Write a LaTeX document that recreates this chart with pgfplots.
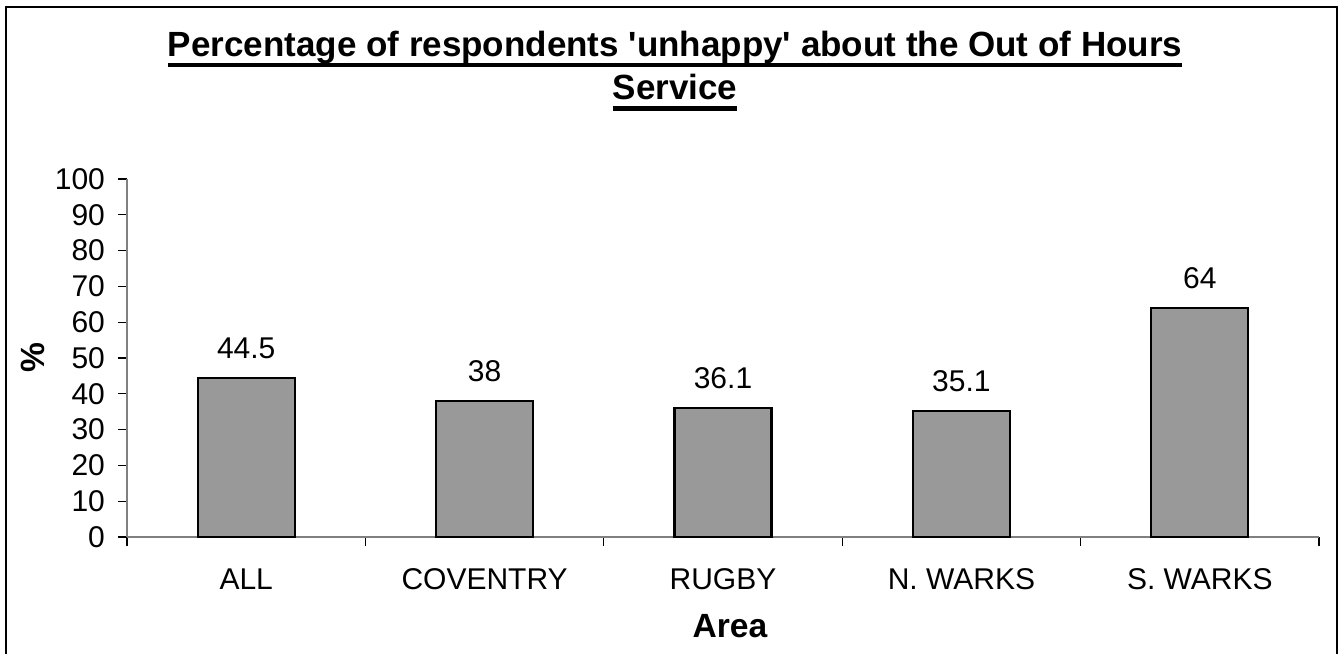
\documentclass[border=0pt]{standalone}
\usepackage{pgfplots}
\pgfplotsset{compat=1.18}
\usepackage{fontspec}
\setmainfont{Liberation Sans}
\newfontfamily\plainfont{Liberation Sans}
\newcommand\ulx[1]{\setbox0\hbox{#1}\rlap{\rule[-5.3pt]{\wd0}{2.3pt}}\box0}
\begin{document}
\begin{tikzpicture}
\useasboundingbox (-63.5pt,-58pt) rectangle (607.5pt,268.5pt);
\begin{axis}[
  scale only axis,
  width=596pt, height=179pt,
  xmin=-0.5, xmax=4.5, ymin=0, ymax=100,
  enlargelimits=false,
  axis lines*=left,
  axis line style={draw=black!50, line width=0.7pt},
  tick align=outside,
  major tick length=4.5pt,
  tick style={black, line width=0.6pt},
  ytick={0,10,...,100},
  xtick={-0.5,0.5,1.5,2.5,3.5,4.5},
  xticklabels={},
  extra x ticks={0,1,2,3,4},
  extra x tick labels={ALL,COVENTRY,RUGBY,N. WARKS,S. WARKS},
  extra x tick style={tick style={draw=none}},
  /pgf/number format/assume math mode=true,
  ticklabel style={font=\fontsize{15pt}{18pt}\selectfont},
  yticklabel style={xshift=-3pt},
  xticklabel style={anchor=base, yshift=-21.5pt},
  xlabel={Area},
  ylabel={\%},
  xlabel style={font=\fontsize{16.8pt}{20pt}\selectfont\bfseries, at={(axis description cs:0.5,0)}, anchor=base, yshift=-50pt, xshift=3.5pt},
  ylabel style={font=\fontsize{16.8pt}{20pt}\selectfont\bfseries, at={(axis description cs:0,0.5)}, anchor=center, yshift=47.25pt},
  ybar, bar width=48.5pt,
  nodes near coords,
  nodes near coords style={font=\fontsize{15pt}{18pt}\selectfont, anchor=south, inner sep=0pt, yshift=9pt},
  clip=false,
]
\addplot[fill=black!40, draw=black, line width=1.1pt] coordinates {(0,44.5) (1,38) (2,36.1) (3,35.1) (4,64)};
\end{axis}
\node[anchor=base, font=\fontsize{17.5pt}{21pt}\plainfont\bfseries, inner sep=0pt] at (274pt,240.15pt) {\ulx{Percentage of respondents 'unhappy' about the Out of Hours}};
\node[anchor=base, font=\fontsize{17.5pt}{21pt}\plainfont\bfseries, inner sep=0pt] at (274pt,218.5pt) {\ulx{Service}};
\draw[line width=1.25pt] (-60.5pt,-62pt) -- (-60.5pt,265pt) -- (605pt,265pt) -- (605pt,-62pt);
\end{tikzpicture}
\end{document}
